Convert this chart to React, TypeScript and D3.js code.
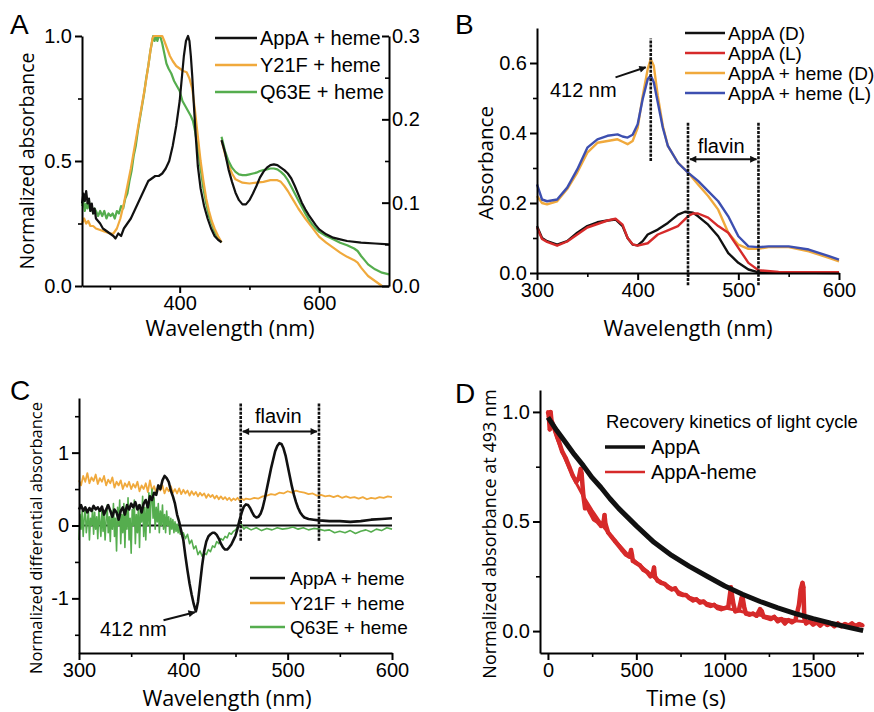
import * as d3 from "d3";
import React, { useEffect, useRef } from "react";

type Pt = [number, number];

// ---------- Panel A (left part normalized, right part on right axis 0-0.3) ----------
const aAppaSoret: Pt[] = [[260,0.33],[262,0.37],[264,0.34],[266,0.38],[268,0.33],[270,0.35],[272,0.3],[274,0.33],[276,0.29],[278,0.31],[280,0.27],[283,0.26],[286,0.25],[290,0.23],[295,0.22],[300,0.21],[305,0.2],[308,0.19],[312,0.21],[316,0.2],[320,0.23],[325,0.25],[330,0.27],[335,0.3],[340,0.33],[345,0.36],[350,0.39],[355,0.42],[360,0.43],[365,0.44],[370,0.44],[375,0.45],[380,0.47],[385,0.5],[390,0.56],[395,0.64],[400,0.74],[403,0.83],[406,0.92],[409,0.98],[412,1.0],[414,0.98],[416,0.92],[418,0.84],[420,0.74],[423,0.6],[426,0.48],[430,0.39],[435,0.32],[440,0.27],[445,0.23],[450,0.2],[455,0.185],[460,0.175]];
const aY21fSoret: Pt[] = [[260,0.25],[263,0.27],[266,0.25],[269,0.26],[272,0.24],[276,0.24],[280,0.23],[285,0.225],[290,0.22],[295,0.215],[300,0.21],[305,0.21],[310,0.23],[315,0.27],[320,0.33],[325,0.4],[330,0.47],[335,0.55],[340,0.63],[345,0.71],[350,0.79],[355,0.88],[358,0.94],[361,0.99],[363,1.0],[375,1.0],[378,0.98],[382,0.95],[386,0.92],[390,0.9],[395,0.88],[400,0.87],[405,0.86],[410,0.855],[414,0.83],[418,0.79],[422,0.7],[426,0.6],[430,0.5],[434,0.42],[438,0.35],[442,0.3],[446,0.26],[450,0.23],[455,0.2],[460,0.175]];
const aQ63eSoret: Pt[] = [[260,0.32],[262,0.34],[264,0.3],[266,0.33],[268,0.31],[270,0.34],[272,0.3],[274,0.32],[276,0.29],[278,0.31],[280,0.3],[283,0.28],[286,0.3],[289,0.28],[292,0.3],[295,0.27],[298,0.29],[301,0.28],[304,0.29],[307,0.27],[310,0.3],[313,0.29],[316,0.32],[319,0.31],[322,0.35],[325,0.37],[328,0.42],[331,0.46],[334,0.52],[337,0.56],[340,0.62],[343,0.67],[346,0.72],[349,0.77],[352,0.83],[355,0.88],[358,0.94],[360,0.97],[362,1.0],[364,0.98],[366,1.0],[368,0.98],[370,1.0],[372,1.0],[375,0.97],[378,0.93],[381,0.89],[384,0.87],[388,0.85],[392,0.82],[396,0.8],[400,0.78],[404,0.74],[408,0.72],[412,0.7],[416,0.68],[419,0.66],[422,0.62],[426,0.55],[430,0.47],[434,0.39],[438,0.33],[442,0.28],[446,0.25],[450,0.22],[455,0.19],[460,0.175]];
const aAppaQ: Pt[] = [[460,0.175],[465,0.16],[470,0.14],[475,0.125],[480,0.112],[485,0.103],[490,0.098],[495,0.098],[500,0.103],[505,0.111],[510,0.12],[515,0.13],[520,0.137],[525,0.142],[530,0.145],[535,0.146],[540,0.145],[545,0.142],[550,0.139],[555,0.135],[560,0.129],[565,0.12],[570,0.11],[575,0.1],[580,0.092],[585,0.085],[590,0.079],[595,0.073],[600,0.068],[610,0.062],[620,0.058],[630,0.056],[640,0.054],[660,0.052],[680,0.051],[700,0.05]];
const aY21fQ: Pt[] = [[460,0.175],[465,0.158],[470,0.145],[475,0.135],[480,0.128],[490,0.124],[500,0.123],[510,0.124],[520,0.125],[530,0.127],[540,0.127],[545,0.125],[550,0.12],[555,0.114],[560,0.107],[565,0.1],[570,0.093],[575,0.087],[580,0.081],[590,0.07],[600,0.059],[610,0.052],[620,0.046],[630,0.04],[640,0.035],[650,0.031],[655,0.028],[660,0.022],[665,0.017],[670,0.012],[680,0.006],[690,0.0]];
const aQ63eQ: Pt[] = [[460,0.179],[465,0.162],[470,0.15],[475,0.142],[480,0.137],[485,0.134],[490,0.133],[495,0.133],[500,0.134],[505,0.135],[510,0.136],[515,0.138],[520,0.139],[525,0.14],[530,0.141],[535,0.141],[540,0.14],[545,0.137],[550,0.133],[555,0.127],[560,0.119],[565,0.111],[570,0.103],[575,0.095],[580,0.087],[585,0.08],[590,0.074],[595,0.069],[600,0.065],[610,0.06],[620,0.056],[630,0.052],[640,0.049],[650,0.045],[655,0.042],[660,0.036],[665,0.031],[670,0.026],[680,0.02],[690,0.016],[700,0.014]];
const aLegend = ["AppA + heme", "Y21F + heme", "Q63E + heme"];

// ---------- Panel B ----------
const bAppaD: Pt[] = [[300,0.134],[305,0.1],[310,0.091],[320,0.081],[330,0.091],[340,0.115],[350,0.134],[360,0.145],[370,0.15],[378,0.153],[385,0.134],[390,0.1],[395,0.081],[400,0.079],[405,0.091],[410,0.11],[420,0.124],[430,0.143],[440,0.167],[447,0.175],[455,0.172],[460,0.162],[470,0.138],[480,0.105],[490,0.057],[500,0.029],[510,0.01],[520,0.002],[550,0.001],[600,0.0]];
const bAppaL: Pt[] = [[300,0.13],[305,0.097],[310,0.089],[320,0.078],[330,0.09],[340,0.11],[350,0.13],[360,0.14],[370,0.15],[378,0.155],[385,0.138],[390,0.1],[395,0.082],[400,0.078],[410,0.085],[420,0.11],[430,0.122],[440,0.134],[450,0.162],[455,0.17],[460,0.17],[470,0.158],[480,0.134],[490,0.115],[500,0.072],[510,0.029],[520,0.008],[540,0.003],[600,0.002]];
const bHemeD: Pt[] = [[300,0.22],[305,0.2],[310,0.196],[320,0.205],[330,0.24],[340,0.287],[350,0.344],[360,0.372],[370,0.377],[380,0.382],[385,0.375],[390,0.368],[395,0.377],[400,0.415],[405,0.506],[410,0.583],[413,0.611],[416,0.592],[420,0.506],[425,0.42],[430,0.363],[440,0.315],[450,0.287],[460,0.253],[470,0.22],[480,0.181],[490,0.115],[500,0.081],[510,0.069],[520,0.069],[530,0.074],[550,0.074],[570,0.062],[590,0.043],[600,0.033]];
const bHemeL: Pt[] = [[300,0.253],[305,0.21],[310,0.205],[320,0.21],[330,0.244],[340,0.296],[350,0.358],[360,0.382],[370,0.392],[380,0.396],[385,0.39],[390,0.387],[395,0.395],[400,0.425],[405,0.497],[410,0.554],[413,0.564],[416,0.545],[420,0.487],[425,0.415],[430,0.363],[440,0.315],[450,0.287],[460,0.263],[470,0.234],[480,0.205],[490,0.162],[500,0.105],[510,0.076],[520,0.074],[530,0.076],[550,0.076],[570,0.067],[590,0.048],[600,0.038]];
const bLegend = ["AppA (D)", "AppA (L)", "AppA + heme (D)", "AppA + heme (L)"];

// ---------- Panel C ----------
const cAppa: Pt[] = [[300,0.22],[302,0.28],[304,0.2],[306,0.25],[308,0.18],[310,0.24],[312,0.2],[314,0.27],[316,0.22],[318,0.25],[320,0.2],[322,0.26],[324,0.15],[326,0.22],[328,0.28],[330,0.2],[332,0.12],[334,0.22],[336,0.18],[338,0.08],[340,0.2],[342,0.25],[344,0.15],[346,0.28],[348,0.22],[350,0.3],[352,0.25],[354,0.32],[356,0.22],[358,0.28],[360,0.18],[362,0.3],[364,0.35],[366,0.25],[368,0.4],[370,0.35],[372,0.45],[374,0.42],[376,0.55],[378,0.5],[380,0.62],[382,0.68],[384,0.65],[386,0.6],[388,0.48],[390,0.4],[392,0.3],[394,0.15],[396,0.05],[398,-0.08],[400,-0.2],[402,-0.42],[404,-0.62],[406,-0.8],[408,-0.95],[410,-1.08],[412,-1.18],[413,-1.12],[414,-1.05],[416,-0.8],[418,-0.55],[420,-0.35],[422,-0.22],[424,-0.15],[426,-0.12],[428,-0.1],[430,-0.1],[432,-0.13],[434,-0.18],[436,-0.25],[438,-0.3],[440,-0.33],[442,-0.33],[444,-0.3],[446,-0.26],[448,-0.2],[450,-0.14],[452,-0.04],[454,0.08],[456,0.18],[458,0.26],[460,0.29],[462,0.28],[464,0.24],[466,0.18],[468,0.13],[470,0.11],[472,0.12],[474,0.16],[476,0.24],[478,0.36],[480,0.5],[482,0.64],[484,0.78],[486,0.9],[488,1.02],[490,1.09],[492,1.13],[494,1.12],[496,1.06],[498,0.96],[500,0.82],[502,0.68],[504,0.54],[506,0.42],[508,0.32],[510,0.24],[512,0.18],[514,0.14],[516,0.11],[520,0.09],[525,0.08],[530,0.07],[540,0.06],[550,0.06],[560,0.05],[570,0.06],[580,0.08],[590,0.09],[600,0.1]];
const cY21f: Pt[] = [[300,0.62],[302,0.55],[304,0.68],[306,0.6],[308,0.72],[310,0.58],[312,0.66],[314,0.61],[316,0.7],[318,0.57],[320,0.65],[322,0.6],[324,0.68],[326,0.55],[328,0.63],[330,0.58],[332,0.66],[334,0.52],[336,0.6],[338,0.55],[340,0.62],[342,0.5],[344,0.58],[346,0.53],[348,0.6],[350,0.5],[352,0.57],[354,0.52],[356,0.6],[358,0.47],[360,0.55],[362,0.5],[364,0.58],[366,0.46],[368,0.62],[370,0.48],[372,0.54],[374,0.45],[376,0.53],[378,0.48],[380,0.55],[382,0.44],[384,0.52],[386,0.47],[388,0.54],[390,0.45],[392,0.5],[394,0.44],[396,0.51],[398,0.43],[400,0.49],[402,0.44],[404,0.48],[406,0.41],[408,0.47],[410,0.42],[412,0.46],[414,0.4],[416,0.45],[418,0.41],[420,0.44],[422,0.38],[424,0.43],[426,0.39],[428,0.42],[430,0.37],[432,0.41],[434,0.36],[436,0.4],[438,0.36],[440,0.39],[442,0.35],[444,0.38],[446,0.34],[448,0.37],[450,0.35],[452,0.38],[454,0.34],[456,0.37],[458,0.35],[460,0.37],[464,0.36],[468,0.38],[472,0.37],[476,0.4],[480,0.41],[484,0.43],[488,0.42],[492,0.45],[496,0.44],[500,0.47],[504,0.45],[508,0.48],[512,0.46],[516,0.45],[520,0.43],[524,0.44],[528,0.41],[532,0.42],[536,0.4],[540,0.41],[544,0.39],[548,0.41],[552,0.38],[556,0.4],[560,0.38],[564,0.39],[568,0.37],[572,0.39],[576,0.36],[580,0.38],[584,0.37],[588,0.39],[592,0.38],[596,0.4],[600,0.39]];
const cQ63e: Pt[] = [[300,-0.2],[301,0.15],[302,-0.05],[303,0.2],[304,-0.15],[305,0.1],[306,0.25],[307,-0.1],[308,0.05],[309,0.2],[310,-0.2],[311,0.1],[312,0.0],[313,0.22],[314,-0.12],[315,0.18],[316,-0.05],[317,0.12],[318,-0.18],[319,0.2],[320,0.05],[321,-0.15],[322,0.25],[323,-0.08],[324,0.15],[325,-0.2],[326,0.08],[327,0.28],[328,-0.1],[329,0.12],[330,-0.22],[331,0.2],[332,-0.05],[333,0.3],[334,-0.15],[335,0.1],[336,-0.35],[337,0.25],[338,0.0],[339,0.35],[340,-0.25],[341,0.15],[342,-0.1],[343,0.3],[344,-0.3],[345,0.2],[346,-0.05],[347,0.38],[348,-0.2],[349,0.1],[350,-0.38],[351,0.22],[352,0.0],[353,0.35],[354,-0.25],[355,0.15],[356,-0.1],[357,0.28],[358,-0.3],[359,0.2],[360,0.05],[361,0.4],[362,-0.15],[363,0.25],[364,-0.2],[365,0.3],[366,0.0],[367,0.45],[368,-0.1],[369,0.35],[370,0.5],[371,0.1],[372,0.38],[373,-0.05],[374,0.25],[375,0.05],[376,0.3],[377,-0.1],[378,0.2],[379,0.0],[380,0.28],[381,-0.05],[382,0.15],[383,-0.1],[384,0.2],[385,0.0],[386,0.12],[387,-0.12],[388,0.1],[389,-0.05],[390,0.08],[391,-0.1],[392,0.05],[393,-0.08],[394,0.02],[395,-0.1],[396,0.0],[397,-0.12],[398,-0.05],[399,-0.15],[400,-0.1],[402,-0.18],[404,-0.12],[406,-0.25],[408,-0.2],[410,-0.32],[412,-0.28],[414,-0.4],[416,-0.35],[418,-0.42],[420,-0.38],[422,-0.4],[424,-0.33],[426,-0.36],[428,-0.28],[430,-0.3],[432,-0.22],[434,-0.25],[436,-0.18],[438,-0.2],[440,-0.15],[442,-0.17],[444,-0.1],[446,-0.12],[448,-0.08],[450,-0.06],[452,-0.02],[454,0.08],[456,0.0],[458,-0.05],[460,-0.02],[465,-0.06],[470,-0.03],[475,-0.07],[480,-0.04],[485,-0.06],[490,-0.03],[495,-0.05],[500,-0.04],[505,-0.02],[510,-0.05],[515,-0.03],[520,-0.06],[525,-0.04],[530,-0.05],[535,-0.07],[540,-0.06],[545,-0.1],[550,-0.08],[555,-0.1],[560,-0.07],[565,-0.11],[570,-0.08],[575,-0.06],[580,-0.09],[585,-0.05],[590,-0.07],[595,-0.03],[600,-0.05]];
const cLegend = ["AppA + heme", "Y21F + heme", "Q63E + heme"];

// ---------- Panel D ----------
const dAppaFit: Pt[] = [[0,0.975],[50,0.915],[100,0.86],[150,0.805],[200,0.755],[250,0.7],[300,0.655],[350,0.605],[400,0.56],[450,0.52],[500,0.48],[600,0.405],[700,0.345],[800,0.295],[900,0.25],[1000,0.206],[1100,0.168],[1200,0.135],[1300,0.106],[1400,0.08],[1500,0.057],[1600,0.036],[1700,0.017],[1783,0.002]];
const dHemeFit: Pt[] = [[0,1.0],[50,0.88],[100,0.78],[150,0.69],[200,0.615],[250,0.55],[300,0.49],[350,0.44],[400,0.395],[450,0.35],[500,0.315],[550,0.28],[600,0.245],[700,0.195],[800,0.155],[900,0.127],[1000,0.106],[1100,0.088],[1200,0.072],[1300,0.058],[1400,0.047],[1500,0.039],[1600,0.033],[1700,0.029],[1780,0.027]];
const dHemeData: Pt[] = [[0,1.0],[5,0.98],[10,0.92],[15,1.0],[20,0.96],[40,0.92],[60,0.87],[80,0.82],[100,0.79],[120,0.75],[140,0.71],[160,0.68],[175,0.7],[185,0.74],[190,0.72],[200,0.62],[210,0.56],[220,0.57],[240,0.54],[260,0.51],[280,0.5],[300,0.48],[315,0.5],[320,0.53],[325,0.49],[340,0.45],[360,0.43],[380,0.41],[400,0.39],[420,0.37],[440,0.35],[460,0.34],[470,0.37],[475,0.35],[480,0.32],[500,0.31],[520,0.3],[540,0.28],[560,0.27],[580,0.25],[595,0.27],[600,0.29],[605,0.25],[620,0.23],[640,0.22],[660,0.215],[680,0.2],[700,0.19],[720,0.195],[740,0.17],[760,0.165],[780,0.165],[800,0.15],[820,0.14],[840,0.145],[860,0.13],[880,0.135],[900,0.12],[920,0.115],[940,0.12],[960,0.105],[980,0.1],[1000,0.105],[1020,0.11],[1035,0.2],[1040,0.17],[1050,0.12],[1060,0.09],[1080,0.095],[1095,0.15],[1100,0.16],[1110,0.11],[1120,0.08],[1140,0.075],[1160,0.08],[1180,0.07],[1200,0.1],[1210,0.09],[1220,0.065],[1240,0.06],[1260,0.055],[1280,0.065],[1300,0.045],[1320,0.055],[1340,0.035],[1360,0.05],[1380,0.04],[1400,0.05],[1420,0.12],[1430,0.19],[1440,0.22],[1445,0.2],[1450,0.06],[1460,0.035],[1480,0.045],[1500,0.03],[1520,0.04],[1540,0.025],[1560,0.04],[1580,0.028],[1600,0.035],[1620,0.022],[1640,0.035],[1660,0.022],[1680,0.032],[1700,0.025],[1720,0.035],[1740,0.022],[1760,0.032],[1780,0.026]];
const dLegend = ["AppA", "AppA-heme"];

const BLACK = "#111111";
const ORANGE = "#f0a93c";
const GREEN = "#55ad4e";
const RED = "#d62a2a";
const BLUE = "#3d4fb0";

const TICK_FONT = "'Liberation Sans', Arial, sans-serif";
const TITLE_FONT = "'Open Sans', 'Noto Sans', sans-serif";

export default function App() {
  const svgRef = useRef<SVGSVGElement>(null);

  useEffect(() => {
    const svg = d3.select(svgRef.current);
    svg.selectAll("*").remove();

    const defs = svg.append("defs");
    defs.append("marker")
      .attr("id", "ah")
      .attr("viewBox", "0 0 10 10")
      .attr("refX", 9).attr("refY", 5)
      .attr("markerWidth", 9).attr("markerHeight", 7)
      .attr("markerUnits", "userSpaceOnUse")
      .attr("orient", "auto-start-reverse")
      .append("path").attr("d", "M0,0 L10,5 L0,10 z").attr("fill", BLACK);

    const line = (g: any, data: Pt[], x: any, y: any, color: string, w: number) =>
      g.append("path").datum(data)
        .attr("fill", "none").attr("stroke", color).attr("stroke-width", w)
        .attr("stroke-linejoin", "round")
        .attr("d", d3.line<Pt>().x((d) => x(d[0])).y((d) => y(d[1])));

    const axis = (make: any, scale: any, major: number[], minor: number[], fmt: any, tr: string, inner = 7) => {
      const gm = svg.append("g").attr("transform", tr)
        .call(make(scale).tickValues(minor).tickSize(inner > 0 ? 4 : -4).tickSizeOuter(0).tickFormat(() => ""));
      gm.select(".domain").remove();
      gm.selectAll(".tick line").attr("stroke", "#000").attr("stroke-width", 1.6);
      const g = svg.append("g").attr("transform", tr)
        .call(make(scale).tickValues(major).tickSize(inner).tickSizeOuter(0).tickPadding(3).tickFormat(fmt));
      g.select(".domain").attr("stroke", "#000").attr("stroke-width", 2);
      g.selectAll(".tick line").attr("stroke", "#000").attr("stroke-width", 2);
      g.selectAll(".tick text").attr("font-family", TICK_FONT).attr("font-size", 20).attr("fill", "#000");
      return g;
    };

    const text = (x: number, y: number, s: string, size: number, anchor = "start", font = TICK_FONT, rot = false) => {
      const t = svg.append("text")
        .attr("font-family", font).attr("font-size", size).attr("fill", "#000")
        .attr("text-anchor", anchor).text(s);
      if (rot) t.attr("transform", `translate(${x},${y}) rotate(-90)`);
      else t.attr("x", x).attr("y", y);
      return t;
    };

    const legend = (x0: number, x1: number, tx: number, ys: number[], labels: string[], colors: string[], size: number, widths: number[]) => {
      labels.forEach((l, i) => {
        svg.append("line").attr("x1", x0).attr("x2", x1).attr("y1", ys[i]).attr("y2", ys[i])
          .attr("stroke", colors[i]).attr("stroke-width", widths[i]);
        text(tx, ys[i] + size * 0.36, l, size);
      });
    };

    const dotted = (x: number, y0: number, y1: number) =>
      svg.append("line").attr("x1", x).attr("x2", x).attr("y1", y0).attr("y2", y1)
        .attr("stroke", BLACK).attr("stroke-width", 2.6).attr("stroke-dasharray", "3,1.2");

    const arrow = (x0: number, y0: number, x1: number, y1: number, both = false) => {
      const l = svg.append("line").attr("x1", x0).attr("y1", y0).attr("x2", x1).attr("y2", y1)
        .attr("stroke", BLACK).attr("stroke-width", 2).attr("marker-end", "url(#ah)");
      if (both) l.attr("marker-start", "url(#ah)");
    };

    const f1 = d3.format(".1f");

    // ================= Panel A =================
    {
      const x = d3.scaleLinear().domain([260, 700]).range([82, 389]);
      const yL = d3.scaleLinear().domain([0, 1]).range([286, 36]);
      const yR = d3.scaleLinear().domain([0, 0.3]).range([286, 36]);
      const g = svg.append("g");
      line(g, aQ63eSoret, x, yL, GREEN, 2.2);
      line(g, aY21fSoret, x, yL, ORANGE, 2.2);
      line(g, aAppaSoret, x, yL, BLACK, 2.2);
      line(g, aY21fQ, x, yR, ORANGE, 2.2);
      line(g, aQ63eQ, x, yR, GREEN, 2.2);
      line(g, aAppaQ, x, yR, BLACK, 2.2);
      axis(d3.axisBottom, x, [400, 600], [300, 500], (d: number) => `${d}`, "translate(0,286)");
      axis(d3.axisLeft, yL, [0, 0.5, 1], [0.25, 0.75], f1, "translate(82,0)");
      axis(d3.axisRight, yR, [0, 0.1, 0.2, 0.3], [0.05, 0.15, 0.25], f1, "translate(389,0)", -7);
      legend(215, 257, 260, [38, 65, 92], aLegend, [BLACK, ORANGE, GREEN], 20, [2.5, 2.5, 2.5]);
      text(34, 161, "Normalized absorbance", 19.5, "middle", TITLE_FONT, true);
      text(230, 336, "Wavelength (nm)", 21.5, "middle", TITLE_FONT);
      text(10, 34, "A", 28, "start", TICK_FONT);
    }

    // ================= Panel B =================
    {
      const x = d3.scaleLinear().domain([300, 600]).range([537, 839]);
      const y = d3.scaleLinear().domain([0, 0.7]).range([273, 28]);
      const g = svg.append("g");
      line(g, bHemeD, x, y, ORANGE, 2.4);
      line(g, bHemeL, x, y, BLUE, 2.4);
      line(g, bAppaD, x, y, BLACK, 2.4);
      line(g, bAppaL, x, y, RED, 2.4);
      axis(d3.axisBottom, x, [300, 400, 500, 600], [350, 450, 550], (d: number) => `${d}`, "translate(0,273)");
      axis(d3.axisLeft, y, [0, 0.2, 0.4, 0.6], [0.1, 0.3, 0.5], f1, "translate(537,0)");
      dotted(x(413), y(0.32), y(0.67));
      dotted(x(450), y(-0.035), y(0.43));
      dotted(x(520), y(-0.035), y(0.43));
      arrow(x(452), y(0.325), x(518), y(0.325), true);
      text(x(483), y(0.343), "flavin", 20, "middle");
      text(x(346), y(0.503), "412 nm", 20, "middle");
      arrow(x(378), y(0.559), x(408), y(0.588));
      legend(685, 725, 728, [33, 53, 73, 93], bLegend, [BLACK, RED, ORANGE, BLUE], 19, [2.5, 2.5, 2.5, 2.5]);
      text(493, 163, "Absorbance", 20.5, "middle", TITLE_FONT, true);
      text(688, 336, "Wavelength (nm)", 21.5, "middle", TITLE_FONT);
      text(455, 34, "B", 28, "start", TICK_FONT);
    }

    // ================= Panel C =================
    {
      const x = d3.scaleLinear().domain([300, 600]).range([79, 392]);
      const y = d3.scaleLinear().domain([-1.75, 1.75]).range([653, 398]);
      const g = svg.append("g");
      line(g, [[300, 0], [600, 0]], x, y, BLACK, 2);
      line(g, cY21f, x, y, ORANGE, 1.8);
      line(g, cQ63e, x, y, GREEN, 1.6);
      line(g, cAppa, x, y, BLACK, 2.6);
      axis(d3.axisBottom, x, [300, 400, 500, 600], [350, 450, 550], (d: number) => `${d}`, "translate(0,653)");
      axis(d3.axisLeft, y, [-1, 0, 1], [-1.5, -0.5, 0.5, 1.5], (d: number) => `${d}`, "translate(79,0)");
      dotted(x(455), y(-0.21), y(1.68));
      dotted(x(530), y(-0.21), y(1.68));
      arrow(x(457), y(1.29), x(528), y(1.29), true);
      text(x(491), y(1.41), "flavin", 20, "middle");
      text(x(352), y(-1.52), "412 nm", 20, "middle");
      arrow(x(381), y(-1.3), x(411), y(-1.19));
      legend(250, 285, 290, [578, 603, 627], cLegend, [BLACK, ORANGE, GREEN], 19, [2.5, 2.5, 2.5]);
      text(42, 538, "Normalized differential absorbance", 16.5, "middle", TITLE_FONT, true);
      text(227, 706, "Wavelength (nm)", 21.5, "middle", TITLE_FONT);
      text(10, 400, "C", 28, "start", TICK_FONT);
    }

    // ================= Panel D =================
    {
      const x = d3.scaleLinear().domain([-45, 1785]).range([540, 863.5]);
      const y = d3.scaleLinear().domain([-0.1, 1.1]).range([653, 390]);
      const g = svg.append("g");
      line(g, dHemeData, x, y, RED, 4.5);
      g.selectAll("circle.pt").data(dHemeData).enter().append("circle")
        .attr("cx", (d: Pt) => x(d[0])).attr("cy", (d: Pt) => y(d[1])).attr("r", 2).attr("fill", RED);
      line(g, dHemeFit, x, y, RED, 3);
      line(g, dAppaFit, x, y, BLACK, 5);
      axis(d3.axisBottom, x, [0, 500, 1000, 1500], [250, 750, 1250, 1750], (d: number) => `${d}`, "translate(0,653)");
      axis(d3.axisLeft, y, [0, 0.5, 1], [0.25, 0.75], f1, "translate(540,0)");
      text(606, 428, "Recovery kinetics of light cycle", 18.5, "start");
      legend(605, 645, 651, [447, 472], dLegend, [BLACK, RED], 20, [3.5, 2.5]);
      text(496, 534, "Normalized absorbance at 493 nm", 18, "middle", TITLE_FONT, true);
      text(686, 706, "Time (s)", 22, "middle", TITLE_FONT);
      text(455, 403, "D", 28, "start", TICK_FONT);
    }
  }, []);

  return (
    <svg
      ref={svgRef}
      width={874}
      height={712}
      style={{ position: "absolute", left: 0, top: 0, background: "#fff" }}
    />
  );
}
